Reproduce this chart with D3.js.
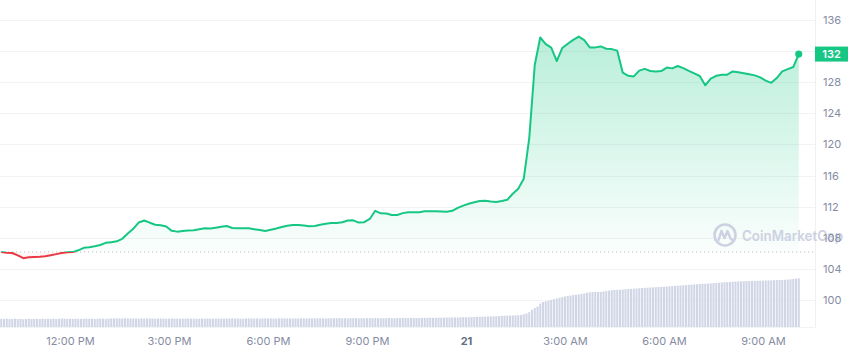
<!DOCTYPE html>
<html><head><meta charset="utf-8">
<script src="https://cdn.jsdelivr.net/npm/d3@7"></script>
<style>
html,body{margin:0;padding:0;background:#fff;}
svg{display:block;font-family:Inter,"Noto Sans",sans-serif;}
</style>
</head><body>
<svg id="chart" width="850" height="351"></svg>
<script>
// ---------- DATA ----------
const priceStart = [2024, 2, 20, 9, 55];   // first sample (local time)
const priceStepMinutes = 10;
const prices = [
106.18,106.08,106.04,105.73,105.37,105.50,105.54,105.57,105.63,105.76,
105.90,106.04,106.13,106.16,106.39,106.71,106.77,106.90,107.07,107.35,
107.44,107.54,107.87,108.56,109.15,109.97,110.22,109.94,109.68,109.60,
109.45,108.89,108.79,108.87,108.92,108.97,109.10,109.23,109.18,109.29,
109.41,109.52,109.25,109.24,109.23,109.22,109.11,109.00,108.87,109.04,
109.20,109.38,109.55,109.64,109.64,109.58,109.49,109.52,109.68,109.81,
109.90,109.90,109.99,110.23,110.24,109.95,110.01,110.42,111.47,111.14,
111.12,110.93,110.93,111.17,111.29,111.27,111.27,111.40,111.40,111.40,
111.39,111.34,111.47,111.84,112.13,112.37,112.56,112.72,112.75,112.66,
112.61,112.72,112.88,113.66,114.31,115.58,120.82,130.21,133.75,132.90,
132.46,130.72,132.39,132.94,133.44,133.87,133.42,132.48,132.48,132.60,
132.31,132.26,132.06,129.23,128.83,128.75,129.49,129.72,129.45,129.38,
129.43,129.88,129.78,130.08,129.81,129.47,129.13,128.80,127.61,128.47,
128.83,128.96,128.97,129.38,129.28,129.16,129.02,128.88,128.62,128.20,
127.92,128.53,129.40,129.68,129.95,131.62
];
const openPrice = 106.17;

const volumeStepMinutes = 5;
const volumes = [
8.2,8.0,8.4,7.9,8.1,8.3,8.0,8.2,7.8,8.1,
8.3,8.0,8.2,8.1,7.9,8.4,8.0,8.2,8.1,8.3,
8.0,8.2,8.5,8.3,8.1,8.2,8.0,8.3,8.2,8.1,
8.2,8.4,8.3,8.2,8.0,8.3,8.4,8.2,8.1,8.3,
8.6,8.5,8.7,8.6,8.5,8.8,8.6,8.4,8.6,8.5,
8.4,8.5,8.3,8.4,8.6,8.5,8.3,8.4,8.5,8.4,
8.3,8.4,8.5,8.3,8.4,8.2,8.3,8.4,8.5,8.3,
8.4,8.3,8.2,8.4,8.3,8.5,8.4,8.3,8.4,8.5,
8.4,8.3,8.5,8.4,8.6,8.4,8.5,8.3,8.4,8.5,
8.6,8.4,8.5,8.6,8.4,8.5,8.7,8.5,8.6,8.4,
8.5,8.6,8.7,8.5,8.6,8.5,8.4,8.6,8.5,8.7,
8.6,8.5,8.7,8.6,8.8,8.6,8.7,8.5,8.6,8.7,
8.8,8.6,8.7,8.9,8.7,8.8,8.6,8.7,8.9,8.8,
8.7,8.9,8.8,8.7,8.9,8.8,9.0,8.8,8.9,8.8,
8.9,9.0,8.9,8.8,9.0,8.9,9.1,9.0,8.9,9.0,
9.1,9.0,9.1,9.2,9.1,9.2,9.3,9.2,9.3,9.4,
9.3,9.4,9.5,9.4,9.5,9.6,9.5,9.7,9.8,9.7,
9.8,9.9,10.0,10.1,10.2,10.3,10.4,10.5,10.6,10.7,
10.8,10.9,11.2,11.3,11.4,11.4,11.5,11.6,11.8,12.0,
12.8,13.6,14.8,17.2,19.0,20.5,23.5,25.0,25.6,26.3,
27.2,27.9,28.5,29.2,29.8,30.5,31.0,31.5,32.0,32.3,
32.6,33.0,33.6,34.3,34.6,35.0,35.0,35.0,35.1,35.5,
36.0,36.3,36.8,37.0,37.2,37.3,37.5,37.7,37.9,38.1,
38.3,38.5,38.7,38.9,39.1,39.3,39.5,39.6,39.8,40.0,
40.1,40.3,40.5,40.7,40.9,41.1,41.3,41.5,41.7,41.9,
42.1,42.4,42.6,42.8,43.0,43.2,43.3,43.5,43.7,43.9,
44.0,44.3,44.5,44.7,44.9,45.0,45.2,45.4,45.5,45.7,
45.8,45.9,46.0,46.0,46.1,46.2,46.3,46.4,46.5,46.6,
46.7,46.8,46.9,47.0,47.1,47.2,47.4,47.7,48.0,48.3,
48.7
];

const yTicks = [100, 104, 108, 112, 116, 120, 124, 128, 132, 136];
const xTickTimes = [[2024,2,20,12],[2024,2,20,15],[2024,2,20,18],[2024,2,20,21],
                    [2024,2,21,0],[2024,2,21,3],[2024,2,21,6],[2024,2,21,9]];
const xTickLabels = ["12:00 PM","3:00 PM","6:00 PM","9:00 PM","21","3:00 AM","6:00 AM","9:00 AM"];
const watermarkText = "CoinMarketCap";

// ---------- BUILD ----------
const t0 = new Date(...priceStart);
const priceData = prices.map((v, i) => ({t: new Date(t0.getTime() + i*priceStepMinutes*60000), v}));
const volData = volumes.map((v, i) => ({t: new Date(t0.getTime() + i*volumeStepMinutes*60000), v}));
const tickDates = xTickTimes.map(a => new Date(a[0], a[1], a[2], a[3], 0));

const W = 850, H = 351, plotRight = 815.5, plotBottom = 327.5;
const GREEN = "#16c784", RED = "#ea3943";

const x = d3.scaleTime().domain([tickDates[0], tickDates[7]]).range([70, 763]);
const y = d3.scaleLinear().domain([100, 136]).range([300, 20]);
const yVol = d3.scaleLinear().domain([0, 50]).range([327, 277]);
const yBase = y(openPrice);

const svg = d3.select("#chart");
const defs = svg.append("defs");

const gG = defs.append("linearGradient").attr("id","gGreen").attr("gradientUnits","userSpaceOnUse")
  .attr("x1",0).attr("x2",0).attr("y1",y(134)).attr("y2",yBase);
gG.append("stop").attr("offset","0").attr("stop-color",GREEN).attr("stop-opacity",0.3);
gG.append("stop").attr("offset","1").attr("stop-color",GREEN).attr("stop-opacity",0.02);
const gR = defs.append("linearGradient").attr("id","gRed").attr("gradientUnits","userSpaceOnUse")
  .attr("x1",0).attr("x2",0).attr("y1",yBase).attr("y2",y(105));
gR.append("stop").attr("offset","0").attr("stop-color",RED).attr("stop-opacity",0.02);
gR.append("stop").attr("offset","1").attr("stop-color",RED).attr("stop-opacity",0.12);

defs.append("clipPath").attr("id","above").append("rect").attr("x",0).attr("y",0).attr("width",W).attr("height",yBase);
defs.append("clipPath").attr("id","below").append("rect").attr("x",0).attr("y",yBase).attr("width",W).attr("height",H-yBase);

// grid
svg.append("g").selectAll("line").data(yTicks).join("line")
  .attr("x1",0).attr("x2",plotRight).attr("y1",d=>Math.round(y(d))+0.5).attr("y2",d=>Math.round(y(d))+0.5)
  .attr("stroke","#f2f3f6").attr("stroke-width",1);
svg.append("line").attr("x1",plotRight).attr("x2",plotRight).attr("y1",0).attr("y2",plotBottom)
  .attr("stroke","#eef0f4");
svg.append("line").attr("x1",0).attr("x2",plotRight).attr("y1",plotBottom).attr("y2",plotBottom)
  .attr("stroke","#f2f3f6");

// volume bars
const step = x(volData[1].t) - x(volData[0].t);
svg.append("g").selectAll("rect").data(volData).join("rect")
  .attr("x", d => x(d.t) - step/2 + 0.35)
  .attr("width", step - 0.7)
  .attr("y", d => yVol(d.v))
  .attr("height", d => yVol(0) - yVol(d.v))
  .attr("fill", "#d1d6e6");

// area fills
const area = d3.area().x(d=>x(d.t)).y0(yBase).y1(d=>y(d.v));
svg.append("path").datum(priceData).attr("d",area).attr("fill","url(#gGreen)").attr("clip-path","url(#above)");
svg.append("path").datum(priceData).attr("d",area).attr("fill","url(#gRed)").attr("clip-path","url(#below)");

// baseline (open price)
svg.append("line").attr("x1",0).attr("x2",plotRight).attr("y1",yBase).attr("y2",yBase)
  .attr("stroke","#b9bec9").attr("stroke-width",1).attr("stroke-dasharray","1.2,2.8");

// watermark
const wm = svg.append("g");
const cx = 725, cy = 235;
wm.append("circle").attr("cx",cx).attr("cy",cy).attr("r",10.5).attr("fill","none")
  .attr("stroke","#cdd2e2").attr("stroke-width",2.6);
wm.append("path")
  .attr("d", d3.line()([[cx-6.5,cy+5],[cx-3.5,cy-4],[cx-0.5,cy+3],[cx+2.5,cy-4],[cx+5.5,cy+3.5],[cx+8,cy+5.5]]))
  .attr("fill","none").attr("stroke","#cdd2e2").attr("stroke-width",2.4).attr("stroke-linejoin","round").attr("stroke-linecap","round");
wm.append("text").attr("x",742).attr("y",cy+5.5).text(watermarkText)
  .attr("font-size",14).attr("font-weight",600).attr("fill","#cdd2e2")
  .attr("textLength",101).attr("lengthAdjust","spacingAndGlyphs");

// price line
const line = d3.line().x(d=>x(d.t)).y(d=>y(d.v));
svg.append("path").datum(priceData).attr("d",line).attr("fill","none").attr("stroke",GREEN)
  .attr("stroke-width",2).attr("stroke-linejoin","round").attr("clip-path","url(#above)");
svg.append("path").datum(priceData).attr("d",line).attr("fill","none").attr("stroke",RED)
  .attr("stroke-width",2).attr("stroke-linejoin","round").attr("clip-path","url(#below)");

const last = priceData[priceData.length-1];
svg.append("circle").attr("cx",x(last.t)).attr("cy",y(last.v)).attr("r",3.6).attr("fill",GREEN);

// y axis
const yAxis = svg.append("g").attr("transform",`translate(${plotRight},0)`)
  .call(d3.axisRight(y).tickValues(yTicks).tickSize(0).tickPadding(7.5).tickFormat(d3.format("d")));
yAxis.select(".domain").remove();
yAxis.selectAll("text").attr("fill","#858ca2").attr("font-size",11).attr("font-family","Inter,sans-serif");

// price tag
const ly = y(last.v);
svg.append("rect").attr("x",plotRight-0.5).attr("y",ly-7.5).attr("width",33).attr("height",15).attr("fill",GREEN);
svg.append("text").attr("x",plotRight+16).attr("y",ly).attr("dy","0.36em").attr("text-anchor","middle")
  .attr("fill","#fff").attr("font-size",11).attr("font-weight",600).text(d3.format(".0f")(last.v));

// x axis
const xAxis = svg.append("g").attr("transform",`translate(0,${plotBottom})`)
  .call(d3.axisBottom(x).tickValues(tickDates).tickSize(0).tickPadding(10).tickFormat((d,i)=>xTickLabels[i]));
xAxis.select(".domain").remove();
xAxis.selectAll("text").attr("fill",(d,i)=>xTickLabels[i]==="21"?"#616e85":"#858ca2")
  .attr("font-weight",(d,i)=>xTickLabels[i]==="21"?700:400)
  .attr("font-size",11).attr("font-family","Inter,sans-serif");
</script>
</body></html>
